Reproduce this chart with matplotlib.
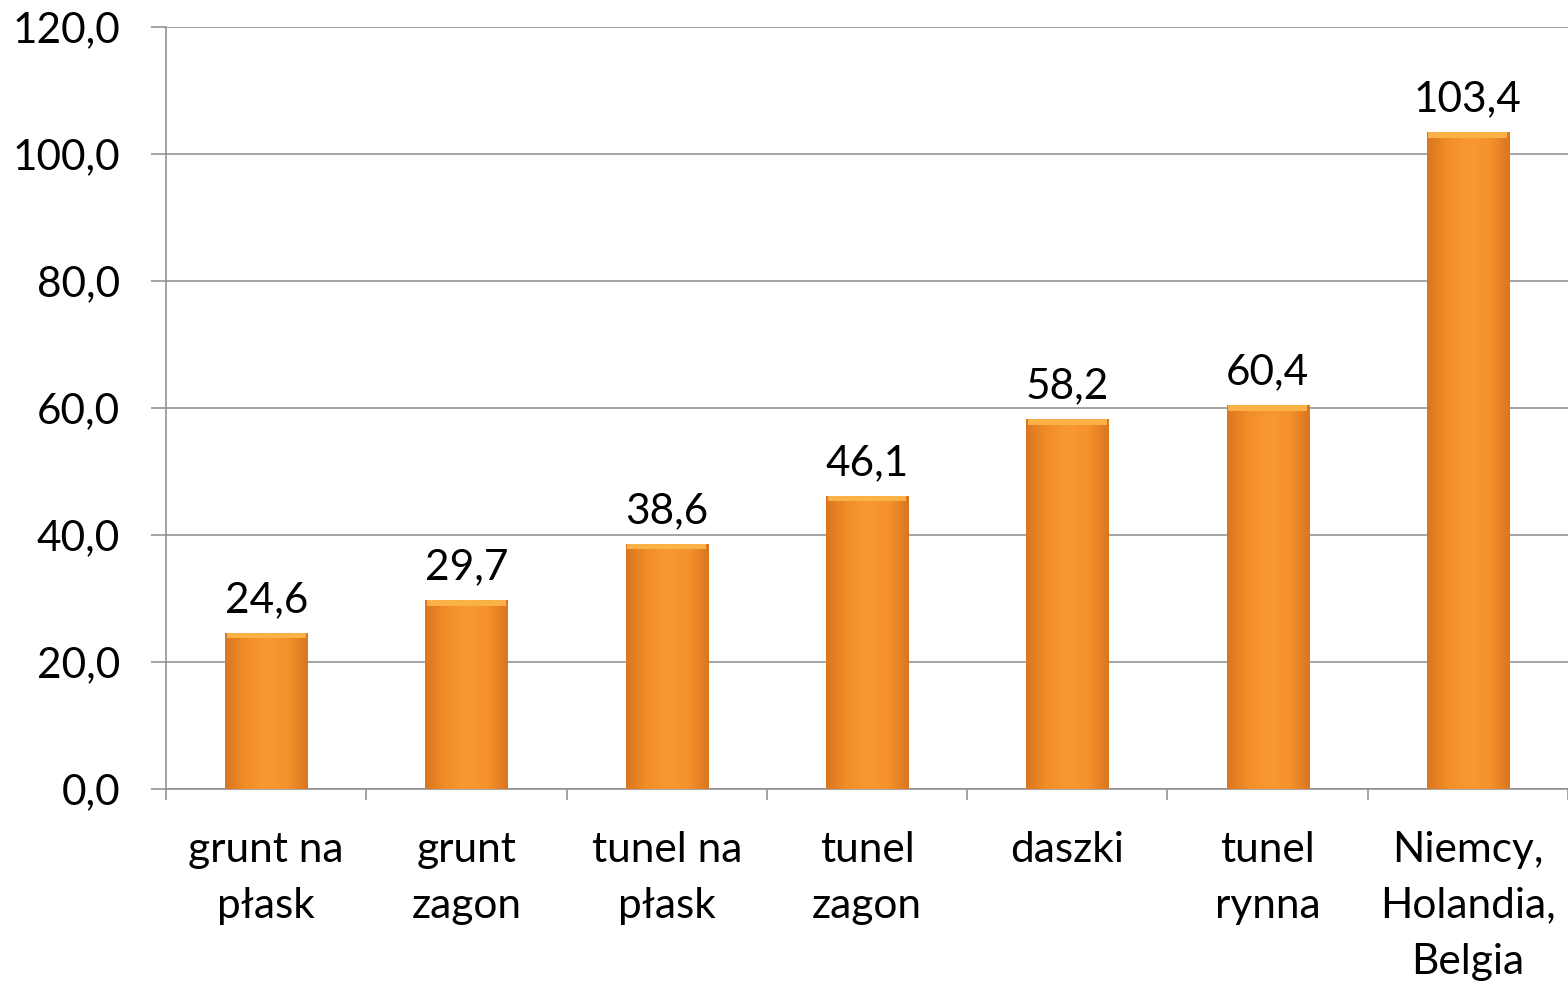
import numpy as np
import matplotlib.pyplot as plt
from matplotlib.colors import LinearSegmentedColormap

# data
categories = ['grunt na\npłask', 'grunt\nzagon', 'tunel na\npłask', 'tunel\nzagon',
              'daszki', 'tunel\nrynna', 'Niemcy,\nHolandia,\nBelgia']
values = [24.6, 29.7, 38.6, 46.1, 58.2, 60.4, 103.4]
y_ticks = [0, 20, 40, 60, 80, 100, 120]

plt.rcParams['font.family'] = ['Lato', 'DejaVu Sans']
FS = 30.5

fig = plt.figure(figsize=(15.68, 9.93), dpi=100)
ax = fig.add_axes([0.1059, 0.2054, 0.8941, 0.7674])

x = np.arange(len(categories))
bars = ax.bar(x, values, width=0.41, color='#F5922A', edgecolor='none', zorder=3)

# horizontal gradient inside each bar (darker edges, light centre)
grad_cmap = LinearSegmentedColormap.from_list(
    'bar', ['#D97620', '#F28D28', '#F89A32', '#F5922C', '#D97620'])
grad = np.linspace(0, 1, 256).reshape(1, -1)
for b in bars:
    x0, w, h = b.get_x(), b.get_width(), b.get_height()
    im = ax.imshow(grad, cmap=grad_cmap, aspect='auto', zorder=3,
                   extent=[x0, x0 + w, 0, h], interpolation='bicubic')
    im.set_clip_path(b)
    # light cap at the top of the bar
    ax.bar(x0 + w / 2, 0.8, bottom=h - 0.8, width=w * 0.96, color='#FAB246',
           edgecolor='none', zorder=4)

labels = [f'{v:.1f}'.replace('.', ',') for v in values]
for xi, v, lab in zip(x, values, labels):
    ax.annotate(lab, (xi, v), xytext=(0, 10), textcoords='offset points',
                ha='center', va='bottom', fontsize=FS)

ax.set_xlim(-0.5, len(categories) - 0.5)
ax.set_ylim(0, 120)
ax.set_yticks(y_ticks)
ax.set_yticklabels([f'{t:.1f}'.replace('.', ',') for t in y_ticks], fontsize=FS)
ax.set_xticks(x)
ax.set_xticklabels(categories, fontsize=FS, linespacing=1.58, va='top')
ax.set_xticks(np.arange(-0.5, len(categories)), minor=True)

ax.tick_params(axis='x', which='major', length=0, pad=30)
ax.tick_params(axis='x', which='minor', length=8, width=1.1, color='#8C8C8C')
ax.tick_params(axis='y', length=11, width=1.1, color='#8C8C8C', pad=22)

ax.grid(axis='y', color='#8C8C8C', linewidth=1.1, zorder=0)
for s in ['top', 'right']:
    ax.spines[s].set_visible(False)
for s in ['left', 'bottom']:
    ax.spines[s].set_color('#8C8C8C')
    ax.spines[s].set_linewidth(1.1)
ax.set_axisbelow(True)

fig.savefig('out.png', dpi=100)
